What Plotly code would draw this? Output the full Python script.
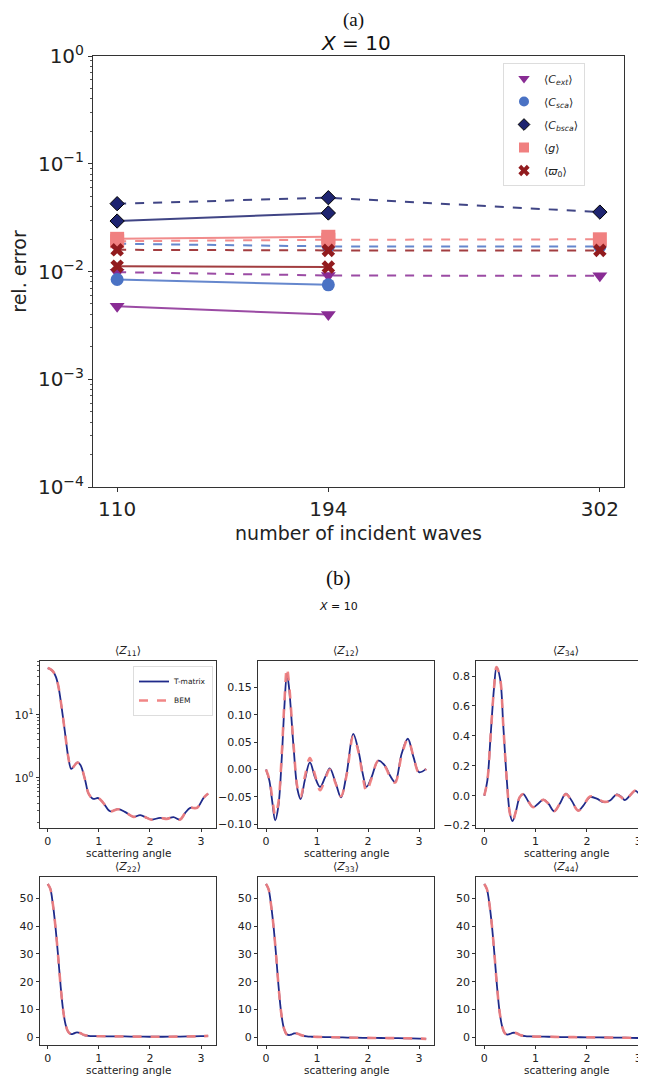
import plotly.graph_objects as go

# ---------------- data: panel (a) ----------------
n_waves = [110, 194, 302]
n_waves_bem = [110, 194]
series_names = ["Cext", "Csca", "Cbsca", "g", "w0"]
legend_labels = ["⟨<i>C</i><sub><i>ext</i></sub>⟩", "⟨<i>C</i><sub><i>sca</i></sub>⟩",
                 "⟨<i>C</i><sub><i>bsca</i></sub>⟩", "⟨<i>g</i>⟩", "⟨<i>ϖ</i><sub>0</sub>⟩"]
err_solid = {
    "Cext": [0.00475, 0.00398],
    "Csca": [0.00843, 0.00752],
    "Cbsca": [0.0294, 0.0349],
    "g": [0.0201, 0.0210],
    "w0": [0.0112, 0.0110],
}
err_dashed = {
    "Cext": [0.00986, 0.00918, 0.00911],
    "Csca": [0.0181, 0.0171, 0.0171],
    "Cbsca": [0.0426, 0.0484, 0.0356],
    "g": [0.0191, 0.0197, 0.0199],
    "w0": [0.0159, 0.0157, 0.0157],
}
y_tick_vals = [1e-4, 1e-3, 1e-2, 1e-1, 1]
y_tick_text = ["10<sup>−4</sup>", "10<sup>−3</sup>", "10<sup>−2</sup>", "10<sup>−1</sup>", "10<sup>0</sup>"]

# ---------------- data: panel (b) ----------------
z11_theta = [0, 0.05, 0.11, 0.16, 0.21, 0.27, 0.34, 0.40, 0.46, 0.51, 0.58, 0.64, 0.73, 0.80,
             0.89, 0.99, 1.09, 1.22, 1.38, 1.51, 1.68, 1.81, 1.94, 2.03, 2.20, 2.33, 2.46,
             2.59, 2.69, 2.79, 2.92, 3.05, 3.14]
z11_tmat = [55, 53, 48, 40, 28, 13.5, 5.1, 2.2, 1.39, 1.52, 1.76, 1.6, 0.94, 0.565,
            0.466, 0.48, 0.40, 0.297, 0.32, 0.29, 0.242, 0.257, 0.233, 0.219, 0.233, 0.225, 0.24,
            0.219, 0.28, 0.336, 0.336, 0.483, 0.565]
z11_bem = [55, 53, 48, 40, 28, 13.5, 5.1, 2.2, 1.39, 1.52, 1.76, 1.6, 0.94, 0.565,
           0.466, 0.48, 0.40, 0.297, 0.32, 0.29, 0.242, 0.257, 0.233, 0.219, 0.233, 0.225, 0.24,
           0.219, 0.28, 0.336, 0.336, 0.483, 0.565]

z12_theta = [0, 0.065, 0.12, 0.18, 0.24, 0.31, 0.36, 0.41, 0.45, 0.54, 0.62, 0.68, 0.76, 0.86,
             0.96, 1.06, 1.16, 1.25, 1.37, 1.47, 1.58, 1.71, 1.81, 1.91, 1.97, 2.07, 2.20,
             2.33, 2.43, 2.53, 2.66, 2.78, 2.89, 3.00, 3.14]
z12_tmat = [0, -0.020, -0.057, -0.093, -0.069, 0.023, 0.114, 0.175, 0.151, 0.041, -0.038, -0.054,
            -0.020, 0.013, -0.014, -0.032, -0.014, 0.002, -0.026, -0.051, -0.008, 0.065, 0.035,
            -0.014, -0.032, -0.014, 0.016, 0.007, -0.011, -0.023, 0.029, 0.056, 0.023, -0.005, 0.001]
z12_bem = [0, -0.018, -0.050, -0.083, -0.062, 0.030, 0.122, 0.185, 0.158, 0.045, -0.035, -0.050,
           -0.014, 0.021, -0.010, -0.038, -0.017, 0.000, -0.027, -0.049, -0.010, 0.060, 0.033,
           -0.020, -0.040, -0.016, 0.016, 0.006, -0.013, -0.024, 0.026, 0.055, 0.024, -0.006, 0.001]

z34_theta = [0, 0.06, 0.12, 0.19, 0.24, 0.31, 0.37, 0.44, 0.50, 0.55, 0.62, 0.69, 0.76, 0.86,
             0.95, 1.05, 1.15, 1.25, 1.36, 1.47, 1.59, 1.70, 1.83, 1.93, 2.06, 2.19, 2.32,
             2.45, 2.58, 2.68, 2.74, 2.84, 2.94, 3.03, 3.13]
z34_tmat = [0, 0.10, 0.38, 0.72, 0.86, 0.78, 0.47, 0.10, -0.12, -0.17, -0.10, -0.01, 0.01, -0.04,
            -0.077, -0.054, -0.027, -0.054, -0.104, -0.054, 0.014, -0.032, -0.10, -0.066, -0.01,
            -0.02, -0.043, -0.032, 0.009, -0.01, -0.03, 0.002, 0.032, 0.01, -0.005]
z34_bem = [0, 0.10, 0.38, 0.72, 0.86, 0.78, 0.47, 0.10, -0.12, -0.17, -0.10, -0.01, 0.01, -0.04,
           -0.077, -0.054, -0.027, -0.054, -0.104, -0.054, 0.010, -0.035, -0.10, -0.066, -0.005,
           -0.015, -0.040, -0.035, 0.005, -0.015, -0.035, 0.002, 0.035, 0.010, -0.005]

diag_theta = [0, 0.05, 0.10, 0.15, 0.20, 0.25, 0.30, 0.35, 0.40, 0.45, 0.50, 0.55, 0.60, 0.65,
              0.70, 0.80, 0.90, 1.00, 1.25, 1.50, 1.75, 2.00, 2.25, 2.50, 2.75, 3.00, 3.14]
z22_tmat = [55.2, 53.5, 48, 40, 30, 19, 10, 4.5, 2.0, 1.2, 1.3, 1.7, 1.7, 1.4, 0.9, 0.5, 0.4,
            0.4, 0.35, 0.3, 0.25, 0.2, 0.2, 0.25, 0.3, 0.4, 0.5]
z22_bem = list(z22_tmat)
z33_tmat = [55.2, 53.3, 47.5, 39.5, 29, 17.5, 8.5, 3.3, 1.2, 0.8, 1.0, 1.4, 1.4, 1.1, 0.7, 0.3,
            0.2, 0.15, 0.05, -0.05, -0.15, -0.2, -0.25, -0.3, -0.35, -0.45, -0.55]
z33_bem = list(z33_tmat)
z44_tmat = [55.2, 53.4, 48, 40, 29.5, 18, 9, 3.8, 1.5, 1.0, 1.2, 1.6, 1.6, 1.3, 0.8, 0.4, 0.3,
            0.25, 0.2, 0.1, 0.05, 0.0, -0.05, -0.1, -0.15, -0.25, -0.3]
z44_bem = list(z44_tmat)

panel_titles = ["⟨<i>Z</i><sub>11</sub>⟩", "⟨<i>Z</i><sub>12</sub>⟩", "⟨<i>Z</i><sub>34</sub>⟩",
                "⟨<i>Z</i><sub>22</sub>⟩", "⟨<i>Z</i><sub>33</sub>⟩", "⟨<i>Z</i><sub>44</sub>⟩"]

# ---------------- styles ----------------
OFF = 8                      # page body margin of the html file
W, H = 646 - OFF, 1078 - OFF
FONT = "DejaVu Sans"
colors = {"Cext": "#892C94", "Csca": "#4A72C4", "Cbsca": "#1E2470", "g": "#F08080", "w0": "#921B1E"}
line_rgba = {"Cext": "rgba(137,44,148,0.85)", "Csca": "rgba(74,114,196,0.85)",
             "Cbsca": "rgba(30,36,112,0.85)", "g": "rgba(240,128,128,0.9)", "w0": "rgba(146,27,30,0.85)"}
symbols = {"Cext": "triangle-down", "Csca": "circle", "Cbsca": "diamond", "g": "square", "w0": "x"}
sizes = {"Cext": 13, "Csca": 13, "Cbsca": 11, "g": 14, "w0": 12}
TM_COLOR = "#1F2A8A"
BEM_COLOR = "rgba(240,128,128,0.95)"

fig = go.Figure()

for name in series_names:
    mk = dict(symbol=symbols[name], size=sizes[name], color=colors[name],
              line=dict(color="black" if name == "Cbsca" else colors[name], width=1 if name == "Cbsca" else 0))
    fig.add_trace(go.Scatter(x=n_waves, y=err_dashed[name], mode="lines+markers",
                             line=dict(color=line_rgba[name], width=2, dash="dash"),
                             marker=mk, showlegend=False, xaxis="x", yaxis="y"))
    fig.add_trace(go.Scatter(x=n_waves_bem, y=err_solid[name], mode="lines+markers",
                             line=dict(color=line_rgba[name], width=2),
                             marker=mk, showlegend=False, xaxis="x", yaxis="y"))

for name, lab in zip(series_names, legend_labels):
    mk = dict(symbol=symbols[name], size=10 if name != "Cbsca" else 9, color=colors[name],
              line=dict(color="black" if name == "Cbsca" else colors[name], width=1 if name == "Cbsca" else 0))
    fig.add_trace(go.Scatter(x=[None], y=[None], mode="markers", marker=mk, name=lab,
                             legendgroup=name, showlegend=True, xaxis="x", yaxis="y", legend="legend"))

panels = [
    (z11_theta, z11_tmat, z11_bem),
    (z12_theta, z12_tmat, z12_bem),
    (z34_theta, z34_tmat, z34_bem),
    (diag_theta, z22_tmat, z22_bem),
    (diag_theta, z33_tmat, z33_bem),
    (diag_theta, z44_tmat, z44_bem),
]
for i, (th, tm, bem) in enumerate(panels):
    ax = str(i + 2)
    fig.add_trace(go.Scatter(x=th, y=tm, mode="lines", line=dict(color=TM_COLOR, width=1.8, shape="spline"),
                             name="T-matrix", showlegend=(i == 0), legend="legend2",
                             xaxis="x" + ax, yaxis="y" + ax))
    fig.add_trace(go.Scatter(x=th, y=bem, mode="lines",
                             line=dict(color=BEM_COLOR, width=2.6, dash="dash", shape="spline"),
                             name="BEM", showlegend=(i == 0), legend="legend2",
                             xaxis="x" + ax, yaxis="y" + ax))

def py(px):
    return 1 - (px - OFF) / H

def pxx(px):
    return (px - OFF) / W

layout = dict(
    width=W, height=H, margin=dict(l=0, r=0, t=0, b=0, autoexpand=False),
    paper_bgcolor="white", plot_bgcolor="white",
    font=dict(family=FONT, color="#222"),
    showlegend=True,
    legend=dict(x=pxx(503), y=py(63), xanchor="left", yanchor="top", bgcolor="white",
                bordercolor="#DDDDDD", borderwidth=1, font=dict(size=11, family=FONT),
                traceorder="grouped", tracegroupgap=4, itemwidth=30),
    legend2=dict(x=pxx(213), y=py(666), xanchor="right", yanchor="top", bgcolor="white",
                 bordercolor="#DDDDDD", borderwidth=1, font=dict(size=7.5, family=FONT),
                 itemwidth=30, tracegroupgap=0),
)

axis_line = dict(showline=True, mirror=True, linecolor="#333", linewidth=1, showgrid=False,
                 zeroline=False, ticks="outside", tickcolor="#333", automargin=False)

top_minor = [m * 10 ** e for e in range(-4, 0) for m in range(2, 10)]
layout["xaxis"] = dict(axis_line, domain=[pxx(93), pxx(624)], range=[100.4, 311.6],
                       tickvals=n_waves, ticklen=4, tickfont=dict(size=20, family=FONT),
                       title=dict(text="number of incident waves", font=dict(size=19, family=FONT), standoff=6),
                       anchor="y")
layout["yaxis"] = dict(axis_line, domain=[py(487), py(56)], type="log", range=[-4, 0],
                       tickvals=y_tick_vals, ticktext=y_tick_text, ticklen=4,
                       tickfont=dict(size=20, family=FONT),
                       minor=dict(tickmode="array", tickvals=top_minor, ticks="outside", ticklen=2,
                                  tickcolor="#555", showgrid=False),
                       title=dict(text="rel. error", font=dict(size=19, family=FONT), standoff=8),
                       anchor="x")

z11_minor = [m * 10 ** e for e in range(-1, 2) for m in range(2, 10)]
col_dom = [[pxx(39.7), pxx(216.3)], [pxx(258), pxx(434.3)], [pxx(476.2), 1.0]]
col_rng = [[-0.157, 3.299], [-0.157, 3.299], [-0.157, 3.150]]
col_center = [128, 346, 566]
row_dom = [[py(827.5), py(661)], [py(1045), py(876.7)]]
y_specs = [
    dict(type="log", range=[-0.785, 1.853], tickvals=[1, 10], ticktext=["10<sup>0</sup>", "10<sup>1</sup>"],
         minor=dict(tickmode="array", tickvals=z11_minor, ticks="outside", ticklen=2,
                    tickcolor="#555", showgrid=False)),
    dict(range=[-0.106, 0.198], tickvals=[-0.10, -0.05, 0, 0.05, 0.10, 0.15], tickformat=".2f"),
    dict(range=[-0.213, 0.901], tickvals=[-0.2, 0, 0.2, 0.4, 0.6, 0.8], tickformat=".1f"),
    dict(range=[-2.77, 57.8], tickvals=[0, 10, 20, 30, 40, 50]),
    dict(range=[-2.77, 57.8], tickvals=[0, 10, 20, 30, 40, 50]),
    dict(range=[-2.77, 57.8], tickvals=[0, 10, 20, 30, 40, 50]),
]
annotations = []
for i in range(6):
    r, c = divmod(i, 3)
    ax = str(i + 2)
    layout["xaxis" + ax] = dict(axis_line, domain=col_dom[c], range=col_rng[c], tickvals=[0, 1, 2, 3],
                                ticklen=3, tickfont=dict(size=11, family=FONT), anchor="y" + ax)
    layout["yaxis" + ax] = dict(axis_line, domain=row_dom[r], ticklen=3,
                                tickfont=dict(size=11, family=FONT), anchor="x" + ax, **y_specs[i])
    xc = pxx(col_center[c])
    annotations.append(dict(text=panel_titles[i], x=xc, y=row_dom[r][1], xref="paper", yref="paper",
                            xanchor="center", yanchor="bottom", yshift=1, showarrow=False,
                            font=dict(size=11, family=FONT)))
    annotations.append(dict(text="scattering angle", x=xc, y=py(853 if r == 0 else 1069.5),
                            xref="paper", yref="paper", xanchor="center", yanchor="middle",
                            showarrow=False, font=dict(size=10.5, family=FONT)))

annotations += [
    dict(text="(a)", x=pxx(353), y=1.0, xref="paper", yref="paper", showarrow=False,
         xanchor="center", yanchor="top", borderpad=0, font=dict(size=19, family="Liberation Serif", color="#111")),
    dict(text="<i>X</i> = 10", x=pxx(356), y=py(43), xref="paper", yref="paper", showarrow=False,
         xanchor="center", yanchor="middle", font=dict(size=20, family=FONT, color="#111")),
    dict(text="(b)", x=pxx(338), y=py(578), xref="paper", yref="paper", showarrow=False,
         xanchor="center", yanchor="middle", font=dict(size=21, family="Liberation Serif", color="#111")),
    dict(text="<i>X</i> = 10", x=pxx(338), y=py(606), xref="paper", yref="paper", showarrow=False,
         xanchor="center", yanchor="middle", font=dict(size=11, family=FONT, color="#111")),
]
layout["annotations"] = annotations
fig.update_layout(**layout)
fig.write_html("out.html")
